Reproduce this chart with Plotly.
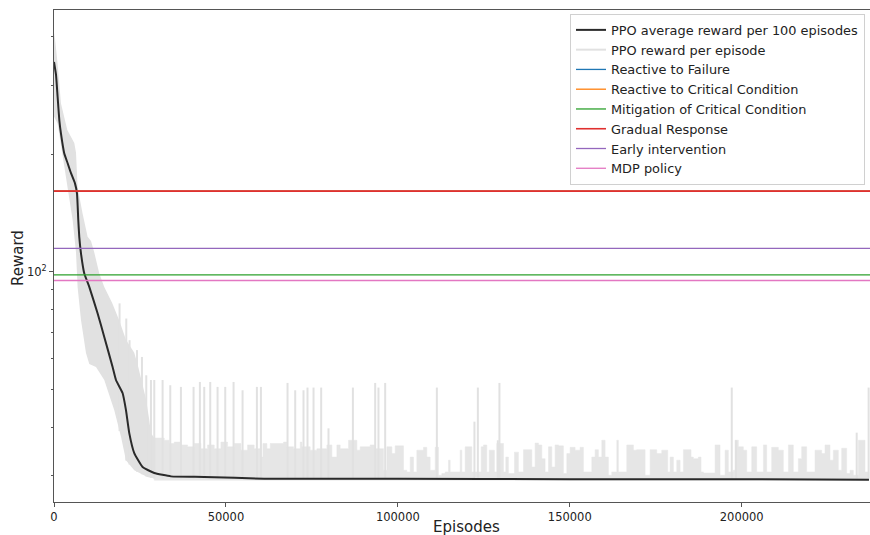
import numpy as np
import plotly.graph_objects as go

# ---------------- data ----------------
X_MAX = 237000

# PPO average reward per 100 episodes
avg_ep = [0, 580, 1050, 1540, 2030, 2990, 3950, 4940, 6100, 6690, 7060, 7350,
          7850, 8810, 10260, 12670, 14620, 17040, 18020, 19940, 20930,
          21890, 23340, 25760, 29160, 34010, 43690, 61140, 100000, 150000,
          200000, 237000]
avg_val = [345, 320, 281, 245, 226, 201, 190, 179, 168.5, 158.6, 135.7, 122.9,
           111.5, 99, 91.5, 78.3, 68.1, 57, 52.8, 48.9, 44.2,
           38.6, 34.3, 31.6, 30.5, 29.9, 29.8, 29.5, 29.5, 29.4,
           29.4, 29.3]

# PPO reward per episode: early envelope (upper / lower)
band_hi_ep = [0, 300, 1000, 2030, 3870, 5900, 6400, 6860, 8310, 9770, 10760, 11720,
              13170, 14620, 16950, 18980, 20930, 23340, 24500, 25090, 26800, 27700,
              28190, 29160]
band_hi_val = [410, 395, 345, 270, 231, 214, 202, 165, 141, 123, 120, 112,
               99, 91.4, 83, 75, 67, 62, 57, 54, 47, 41.7,
               38.6, 37.5]
band_lo_ep = [0, 1050, 2500, 3950, 5410, 6400, 6860, 7850, 9300, 10260, 12210,
              14620, 17530, 19480, 20930, 23340, 27120, 30900]
band_lo_val = [250, 240, 201.6, 165, 136, 112, 91.4, 75.2, 61.9, 58, 57,
               52.8, 44.2, 37.8, 32.9, 31, 29.8, 29.3]

# PPO reward per episode: dense short noise after convergence (block start, top)
grass_ep = [29160, 32060, 33520, 34970, 36910, 38850, 40780, 42720, 44660, 46600,
            48540, 50480, 52410, 54350, 56290, 58230, 59970, 60750, 61910, 62880,
            66760, 67720, 69660, 71600, 72090, 74510, 76450, 79350, 80810, 82260,
            83230, 85650, 88070, 89040, 91950, 93400, 95830, 96800, 98250, 99220,
            101640, 102610, 103580, 104550, 105510, 107450, 108420, 109390, 110850, 111820,
            112780, 113750, 114720, 115210, 118110, 118600, 119570, 121500, 124220, 124900,
            125860, 126540, 128090, 128770, 130710, 131390, 132160, 133910, 135070, 136520,
            138950, 139910, 140880, 141850, 142820, 143790, 144760, 145730, 146700, 148150,
            149120, 150090, 151540, 152990, 153960, 156390, 157360, 158330, 159300, 160260,
            161230, 162200, 163660, 164140, 166560, 168500, 169470, 171890, 173350, 175280,
            176740, 178480, 179160, 180130, 181100, 182070, 183040, 185260, 185940, 187400,
            188170, 188850, 192240, 193690, 195150, 196120, 197570, 198050, 199020, 200480,
            201450, 202900, 204350, 206290, 207260, 208710, 210650, 212110, 213560, 215010,
            216460, 217430, 218890, 221310, 223250, 224220, 225670, 226640, 228090, 229060,
            230520, 231490, 232450, 233910, 235850]
grass_val = [37.5, 37.0, 36.3, 36.6, 36.0, 35.6, 36.3, 35.2, 36.0, 35.2,
             36.6, 35.6, 36.3, 34.9, 36.0, 35.2, 33.5, 36.3, 35.2, 36.3,
             36.6, 35.6, 35.2, 36.6, 35.6, 34.9, 35.2, 36.0, 33.5, 36.0,
             35.2, 37.0, 34.9, 35.6, 36.0, 35.2, 31.0, 35.6, 34.2, 35.8,
             31.0, 30.7, 33.5, 30.7, 34.9, 35.5, 33.5, 31.0, 35.5, 30.1,
             30.4, 30.7, 32.9, 30.7, 34.9, 30.7, 35.6, 30.7, 35.6, 36.0,
             30.7, 34.9, 30.7, 36.3, 30.7, 33.5, 30.4, 34.5, 30.7, 35.0,
             31.6, 36.4, 36.0, 33.2, 30.7, 35.6, 31.6, 36.0, 35.8, 30.4,
             34.2, 35.5, 34.9, 35.5, 30.7, 33.5, 35.0, 33.5, 37.0, 33.5,
             30.1, 30.7, 37.0, 30.7, 36.0, 34.9, 35.0, 30.1, 35.0, 34.2,
             34.9, 30.7, 33.5, 30.7, 32.9, 30.7, 35.0, 33.5, 33.2, 33.5,
             30.7, 30.5, 36.0, 30.1, 34.9, 30.7, 31.0, 37.0, 35.6, 34.9,
             30.7, 35.6, 30.7, 36.0, 30.7, 35.5, 34.9, 30.7, 36.0, 30.7,
             33.2, 35.6, 30.7, 34.9, 34.2, 36.0, 32.9, 34.9, 31.0, 35.3,
             30.4, 31.0, 30.1, 37.0, 30.7]
grass_base = 29.2

# PPO reward per episode: tall isolated spikes
spike_ep = [19070, 21020, 21980, 24130, 25580, 26830, 28190, 29160, 31580, 33810,
            36910, 40590, 42430, 43690, 45440, 47570, 49800, 52220, 54840, 59000,
            60170, 67910, 70150, 72560, 73720, 75470, 77700, 79830, 86920, 93400,
            94360, 96310, 111340, 122270, 123260, 129070, 129540, 197100, 198350, 233430,
            236900]
spike_val = [83.0, 75.9, 66.8, 63.0, 60.5, 54.3, 52.8, 52.8, 52.8, 51.2,
             50.7, 50.7, 52.2, 50.7, 52.2, 50.7, 50.7, 52.2, 49.7, 50.7,
             50.7, 51.9, 49.7, 49.7, 50.5, 50.5, 50.5, 39.7, 50.5, 51.9,
             50.5, 51.9, 50.5, 41.3, 50.5, 37.0, 51.9, 50.5, 37.0, 38.7,
             50.5]
spike_base = 29.5

# Baseline policies (constant reward)
policy_names = ["Reactive to Failure", "Reactive to Critical Condition",
                "Mitigation of Critical Condition", "Gradual Response",
                "Early intervention", "MDP policy"]
policy_vals = [161, 161, 98.2, 161, 114.8, 95.0]
policy_colors = ["#1f77b4", "#ff7f0e", "#2ca02c", "#e0302f", "#9467bd", "#e377c2"]
policy_widths = [1.3, 1.3, 1.3, 1.6, 1.3, 1.3]

x_ticks = [0, 50000, 100000, 150000, 200000]
x_ticklabels = ["0", "50000", "100000", "150000", "200000"]
y_ticks = [100]
y_ticklabels = ["10<sup>2</sup>"]
y_minor = [30, 40, 50, 60, 70, 80, 90, 200, 300, 400]

GRAY = "#e1e1e1"
GRASS_GRAY = "#e6e6e6"
FONT = "DejaVu Sans"
X_RANGE_END = 237300

fig = go.Figure()

# early band polygon
bx = band_hi_ep + band_lo_ep[::-1]
by = band_hi_val + band_lo_val[::-1]
fig.add_trace(go.Scatter(x=bx, y=by, fill="toself", fillcolor=GRAY, mode="lines",
                         line=dict(width=0, color=GRAY), showlegend=False,
                         hoverinfo="skip", legendgroup="g"))

# grass step polygon
gx, gy = [grass_ep[0]], [grass_base]
ends = grass_ep[1:] + [X_MAX]
for s, e, v in zip(grass_ep, ends, grass_val):
    gx += [s, e]
    gy += [v, v]
gx.append(X_MAX)
gy.append(grass_base)
fig.add_trace(go.Scatter(x=gx, y=gy, fill="toself", fillcolor=GRASS_GRAY, mode="lines",
                         line=dict(width=0.5, color=GRASS_GRAY), showlegend=False,
                         hoverinfo="skip", legendgroup="g"))

# spikes (legend carrier): each rises from the lower edge of the gray band
lo_interp = np.interp(spike_ep, band_lo_ep, np.log10(band_lo_val))
sx, sy = [], []
for e, v, lo in zip(spike_ep, spike_val, lo_interp):
    base = max(spike_base, 10 ** lo)
    sx += [e, e, None]
    sy += [base, v, None]
fig.add_trace(go.Scatter(x=sx, y=sy, mode="lines", line=dict(width=2, color=GRAY),
                         name="PPO reward per episode", legendrank=2,
                         legendgroup="g", hoverinfo="skip"))

fig.add_trace(go.Scatter(x=avg_ep, y=avg_val, mode="lines",
                         line=dict(width=2, color="#2a2a2a", shape="spline", smoothing=0.4),
                         name="PPO average reward per 100 episodes", legendrank=1))

for i, (n, v, c, w) in enumerate(zip(policy_names, policy_vals, policy_colors, policy_widths)):
    fig.add_trace(go.Scatter(x=[0, X_MAX + 5000], y=[v, v], mode="lines",
                             line=dict(width=w, color=c), name=n,
                             legendrank=3 + i))

axis_common = dict(showline=True, mirror=True, linecolor="#555555", linewidth=1,
                   showgrid=False, zeroline=False, ticks="outside",
                   tickcolor="#555555", automargin=False,
                   tickfont=dict(family=FONT, size=11.5, color="#222"))

fig.update_xaxes(range=[0, X_RANGE_END], tickvals=x_ticks, ticktext=x_ticklabels,
                 ticklen=4, **axis_common)
fig.update_yaxes(type="log", range=[1.41, 2.671], tickvals=y_ticks,
                 ticktext=y_ticklabels, ticklen=4,
                 minor=dict(tickvals=y_minor, ticklen=2, ticks="outside",
                            tickcolor="#555555", showgrid=False),
                 **axis_common)

PLOT_L, PLOT_W, PLOT_T, PLOT_H = 54, 816, 10, 492
fig.add_annotation(text="Episodes", xref="paper", yref="paper",
                   x=(466 - PLOT_L) / PLOT_W, y=-(527 - PLOT_T - PLOT_H) / PLOT_H,
                   xanchor="center", yanchor="middle", showarrow=False,
                   font=dict(family=FONT, size=15, color="#222"))
fig.add_annotation(text="Reward", xref="paper", yref="paper",
                   x=(18 - PLOT_L) / PLOT_W, y=1 - (258 - PLOT_T) / PLOT_H,
                   xanchor="center", yanchor="middle", showarrow=False, textangle=-90,
                   font=dict(family=FONT, size=15, color="#222"))

fig.update_layout(
    width=870, height=535,
    margin=dict(l=PLOT_L, r=0, t=PLOT_T, b=535 - PLOT_T - PLOT_H),
    plot_bgcolor="white", paper_bgcolor="white",
    font=dict(family=FONT, size=13, color="#222"),
    legend=dict(x=(570 - PLOT_L) / PLOT_W, xanchor="left",
                y=1 - (14 - PLOT_T) / PLOT_H, yanchor="top",
                bgcolor="rgba(255,255,255,0.9)", bordercolor="#d0d0d0",
                borderwidth=1, font=dict(family=FONT, size=12.9, color="#222"),
                itemwidth=30, tracegroupgap=0),
    showlegend=True,
)

fig.write_html("out.html", config={"displayModeBar": False},
               post_script="document.body.style.margin='0';")
